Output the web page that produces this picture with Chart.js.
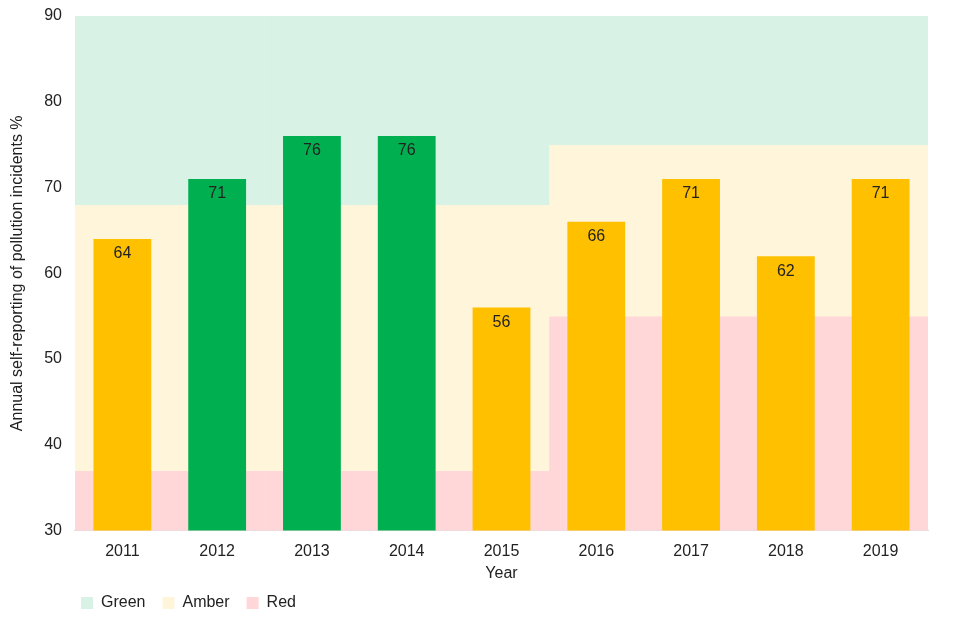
<!DOCTYPE html>
<html>
<head>
<meta charset="utf-8">
<script src="https://cdn.jsdelivr.net/npm/chart.js@4.4.1/dist/chart.umd.min.js"></script>
<style>
  html, body { margin: 0; padding: 0; background: #fff; }
  #wrap { width: 960px; height: 640px; }
</style>
</head>
<body>
<div id="wrap"><canvas id="chart"></canvas></div>
<script>
// Self-reporting of pollution incidents, 2011-2019
const years = ["2011", "2012", "2013", "2014", "2015", "2016", "2017", "2018", "2019"];
const values = [64, 71, 76, 76, 56, 66, 71, 62, 71];
const ratings = ["amber", "green", "green", "green", "amber", "amber", "amber", "amber", "amber"];

// Threshold bands per year: red up to redTop, amber up to amberTop, green above
const redTop = [37, 37, 37, 37, 37, 55, 55, 55, 55];
const amberTop = [68, 68, 68, 68, 68, 75, 75, 75, 75];
const yMin = 30;
const yMax = 90;

const barColors = { green: "#00b050", amber: "#ffc000" };
const bandColors = { green: "#d8f3e5", amber: "#fff5da", red: "#ffd7d9" };

function band(label, lo, hi, color) {
    return {
        label: label,
        data: years.map((y, i) => [lo[i], hi[i]]),
        backgroundColor: color,
        borderWidth: 0,
        barPercentage: 1,
        categoryPercentage: 1,
        grouped: false,
        order: 2
    };
}

const lows = years.map(() => yMin);
const highs = years.map(() => yMax);

// value labels drawn inside the top of each bar
const valueLabels = {
    id: "valueLabels",
    afterDatasetsDraw(chart) {
        const meta = chart.getDatasetMeta(3);
        const ctx = chart.ctx;
        ctx.save();
        ctx.font = "16px 'Liberation Sans', Arial, sans-serif";
        ctx.fillStyle = "#222";
        ctx.textAlign = "center";
        ctx.textBaseline = "middle";
        meta.data.forEach((bar, i) => {
            ctx.fillText(String(values[i]), bar.x, bar.y + 15);
        });
        ctx.restore();
    }
};

// nudge the legend so it starts under the plot, like the original
const legendShift = {
    id: "legendShift",
    afterLayout(chart) {
        if (!chart.legend) return;
        chart.legend.left = chart.chartArea.left - 11;
        chart.legend.top -= 5;
    }
};

Chart.defaults.font.family = "'Liberation Sans', Arial, sans-serif";
Chart.defaults.font.size = 16;
Chart.defaults.color = "#222";

new Chart(document.getElementById("chart"), {
    type: "bar",
    data: {
        labels: years,
        datasets: [
            band("Green", amberTop, highs, bandColors.green),
            band("Amber", redTop, amberTop, bandColors.amber),
            band("Red", lows, redTop, bandColors.red),
            {
                label: "Value",
                data: values,
                backgroundColor: ratings.map(r => barColors[r]),
                borderWidth: 0,
                barPercentage: 0.61,
                categoryPercentage: 1,
                grouped: false,
                order: 1
            }
        ]
    },
    options: {
        responsive: true,
        maintainAspectRatio: false,
        animation: false,
        layout: { padding: { top: 16, right: 32, bottom: 14, left: 4 } },
        scales: {
            x: {
                grid: { display: false, drawTicks: false },
                border: { color: "#dddddd" },
                ticks: { padding: 11 },
                title: { display: true, text: "Year", padding: { top: -8, bottom: 0 } }
            },
            y: {
                min: yMin,
                max: yMax,
                grid: { display: false, drawTicks: false },
                border: { display: false },
                ticks: { stepSize: 10, padding: 13 },
                title: {
                    display: true,
                    text: "Annual self-reporting of pollution incidents %",
                    padding: { bottom: 4 }
                },
                // tick padding would otherwise push the plot top down
                afterFit(scale) { scale.paddingTop = 0; }
            }
        },
        plugins: {
            legend: {
                position: "bottom",
                align: "start",
                labels: {
                    boxWidth: 12,
                    boxHeight: 12,
                    padding: 17,
                    filter: item => item.datasetIndex < 3
                }
            },
            tooltip: { enabled: false }
        }
    },
    plugins: [valueLabels, legendShift]
});
</script>
</body>
</html>
